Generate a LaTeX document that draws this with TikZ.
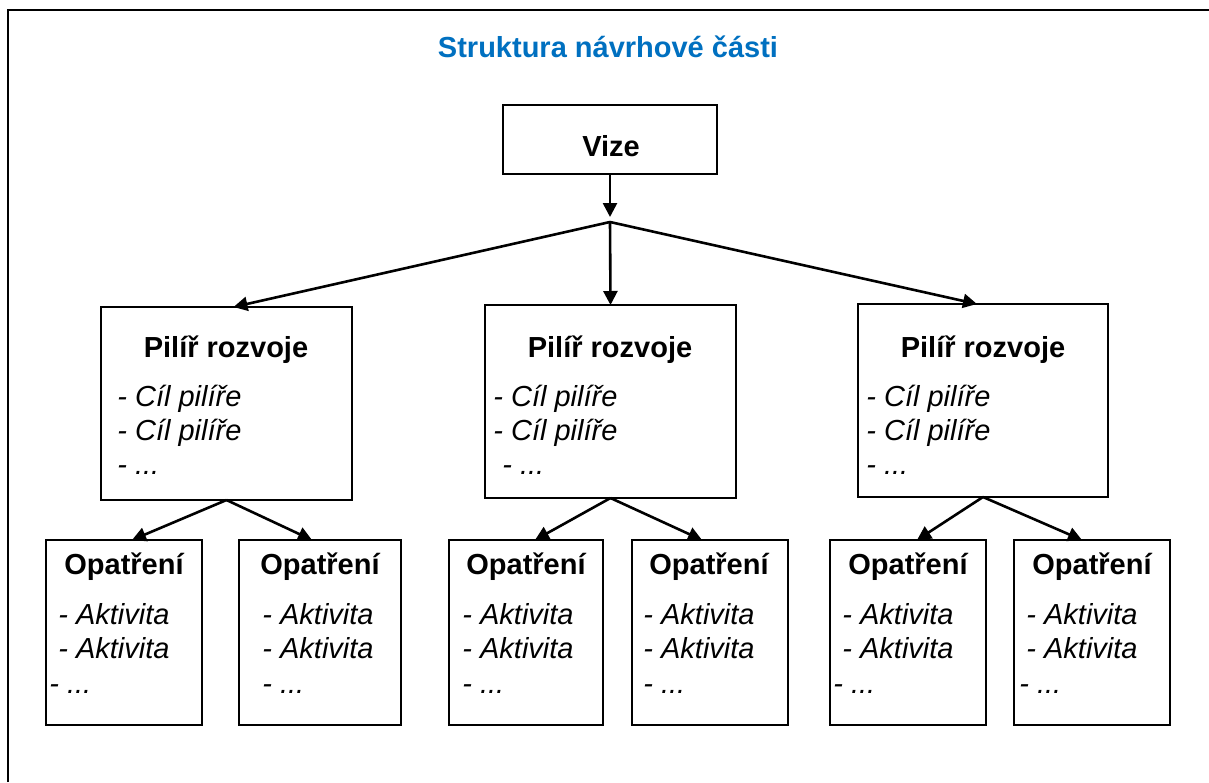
\documentclass[tikz,border=0pt]{standalone}
\usepackage{fontspec}
\setmainfont{Liberation Sans}
\usepackage{tikz}
\usetikzlibrary{arrows.meta}
\definecolor{titleblue}{HTML}{0070C0}

\begin{document}
\begin{tikzpicture}[x=0.5pt,y=-0.5pt,
box/.style={draw,line width=1pt,inner sep=0pt,outer sep=0pt},
head/.style={anchor=base,inner sep=0pt,font=\bfseries\fontsize{14.5}{17}\selectfont},
entry/.style={anchor=base west,inner sep=0pt,font=\itshape\fontsize{14.5}{17}\selectfont},
link/.style={line width=1.3pt,-{Triangle[length=7pt,width=7pt]}}]
\useasboundingbox (0,0) rectangle (1209,782);
% the frame and the title
\draw[line width=1pt] (8,782) -- (8,10) -- (1209,10);
\node[head,text=titleblue] (title) at (608,57) {Struktura návrhové části};
% boxes
\node[box,minimum width=107pt,minimum height=34.5pt] (vize) at (610,139.5) {};
\node[box,minimum width=125.5pt,minimum height=96.5pt] (pilir1) at (226.5,403.5) {};
\node[box,minimum width=125.5pt,minimum height=96.5pt] (pilir2) at (610.5,401.5) {};
\node[box,minimum width=125pt,minimum height=96.5pt] (pilir3) at (983,400.5) {};
\node[box,minimum width=78pt,minimum height=92.5pt] (opat11) at (124,632.5) {};
\node[box,minimum width=81pt,minimum height=92.5pt] (opat12) at (320,632.5) {};
\node[box,minimum width=77pt,minimum height=92.5pt] (opat21) at (526,632.5) {};
\node[box,minimum width=78pt,minimum height=92.5pt] (opat22) at (710,632.5) {};
\node[box,minimum width=78pt,minimum height=92.5pt] (opat31) at (908,632.5) {};
\node[box,minimum width=78pt,minimum height=92.5pt] (opat32) at (1092,632.5) {};
% texts in the boxes
\node[head] (vizetext) at (611,156) {Vize};
\node[head] (pilir1head) at (226,357) {Pilíř rozvoje};
\node[entry] (pilir1a) at (117,406) {- Cíl pilíře};
\node[entry] (pilir1b) at (117,440) {- Cíl pilíře};
\node[entry] (pilir1c) at (117,474) {- ...};
\node[head] (pilir2head) at (610,357) {Pilíř rozvoje};
\node[entry] (pilir2a) at (493,406) {- Cíl pilíře};
\node[entry] (pilir2b) at (493,440) {- Cíl pilíře};
\node[entry] (pilir2c) at (502,474) {- ...};
\node[head] (pilir3head) at (983,357) {Pilíř rozvoje};
\node[entry] (pilir3a) at (866,406) {- Cíl pilíře};
\node[entry] (pilir3b) at (866,440) {- Cíl pilíře};
\node[entry] (pilir3c) at (866,474) {- ...};
\node[head] (opat11head) at (124,574) {Opatření};
\node[entry] (opat11a) at (58,624) {- Aktivita};
\node[entry] (opat11b) at (58,658) {- Aktivita};
\node[entry] (opat11c) at (49,693) {- ...};
\node[head] (opat12head) at (320,574) {Opatření};
\node[entry] (opat12a) at (262,624) {- Aktivita};
\node[entry] (opat12b) at (262,658) {- Aktivita};
\node[entry] (opat12c) at (262,693) {- ...};
\node[head] (opat21head) at (526,574) {Opatření};
\node[entry] (opat21a) at (462,624) {- Aktivita};
\node[entry] (opat21b) at (462,658) {- Aktivita};
\node[entry] (opat21c) at (462,693) {- ...};
\node[head] (opat22head) at (709,574) {Opatření};
\node[entry] (opat22a) at (643,624) {- Aktivita};
\node[entry] (opat22b) at (643,658) {- Aktivita};
\node[entry] (opat22c) at (643,693) {- ...};
\node[head] (opat31head) at (908,574) {Opatření};
\node[entry] (opat31a) at (842,624) {- Aktivita};
\node[entry] (opat31b) at (842,658) {- Aktivita};
\node[entry] (opat31c) at (833,693) {- ...};
\node[head] (opat32head) at (1092,574) {Opatření};
\node[entry] (opat32a) at (1026,624) {- Aktivita};
\node[entry] (opat32b) at (1026,658) {- Aktivita};
\node[entry] (opat32c) at (1019,693) {- ...};
% the arrows
\coordinate (split) at (610,222);
\draw[link] (vize.south) -- ([yshift=2.5pt]split);
\draw[link] (split) -- ([xshift=3.5pt]pilir1.north);
\draw[link] (split) -- (pilir2.north);
\draw[link] (split) -- ([xshift=-3pt]pilir3.north);
\draw[link] (pilir1.south) -- ([xshift=4pt]opat11.north);
\draw[link] (pilir1.south) -- ([xshift=-4pt]opat12.north);
\draw[link] (pilir2.south) -- ([xshift=4.5pt]opat21.north);
\draw[link] (pilir2.south) -- ([xshift=-4pt]opat22.north);
\draw[link] (pilir3.south) -- ([xshift=4.5pt]opat31.north);
\draw[link] (pilir3.south) -- ([xshift=-5pt]opat32.north);
\end{tikzpicture}
\end{document}
